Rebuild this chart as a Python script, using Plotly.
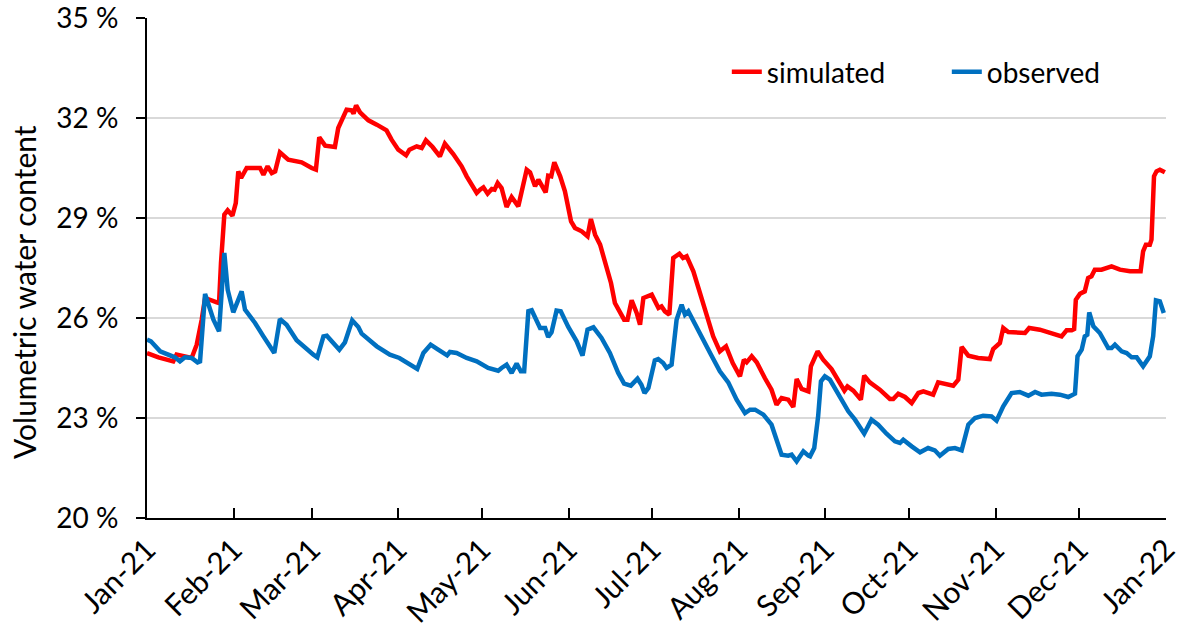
import pandas as pd
import plotly.graph_objects as go

# Day offsets from 1 Jan 2021 and volumetric water content (%)
sim_day = [0, 4.1, 9.4, 10.6, 16.0, 17.8, 19.6, 20.8, 25.0, 25.8, 26.5, 27.7, 28.9, 30.6, 31.8, 32.7, 33.7,
           35.7, 40.5, 41.7, 43.2, 44.7, 45.9, 47.6, 50.6, 55.4, 59.0, 60.5, 61.7, 63.8, 67.3, 68.5, 71.5,
           73.3, 74.0, 74.9, 76.3, 79.3, 82.3, 85.8, 87.6, 90.0, 92.8, 94.0, 96.6, 98.4, 99.9, 102.3, 104.9,
           106.7, 109.7, 112.7, 114.5, 116.3, 118.1, 119.3, 120.5, 122.0, 123.5, 124.5, 125.6, 127.0, 128.8,
           130.6, 133.0, 136.0, 137.2, 139.0, 140.2, 142.8, 143.7, 144.8, 145.9, 148.0, 149.7, 151.9, 153.3,
           155.7, 157.8, 159.0, 160.5, 162.3, 164.0, 166.2, 167.6, 169.1, 170.9, 172.1, 173.6, 175.4, 176.6,
           177.8, 180.8, 183.2, 184.3, 185.5, 187.1, 188.5, 190.7, 192.0, 193.3, 195.7, 198.1, 200.5, 202.8,
           205.2, 207.4, 209.8, 212.4, 213.8, 214.8, 216.6, 218.4, 221.3, 223.7, 225.5, 227.3, 229.7, 231.5,
           232.7, 234.5, 236.9, 237.8, 240.2, 242.2, 245.2, 247.6, 249.8, 250.9, 253.0, 255.7, 256.9, 258.9,
           262.5, 266.1, 267.3, 269.1, 271.5, 273.9, 276.3, 278.1, 281.6, 283.4, 285.8, 288.8, 290.6, 291.8,
           294.2, 297.7, 301.9, 303.1, 305.5, 306.7, 308.5, 314.5, 316.0, 319.8, 327.6, 329.4, 331.2, 332.1,
           332.7, 334.2, 335.9, 337.1, 338.3, 339.5, 341.9, 345.5, 348.5, 352.1, 355.9, 356.8, 357.8, 359.2,
           359.8, 360.7, 361.6, 362.8, 364.6]
sim_val = [24.95, 24.82, 24.70, 24.90, 24.80, 25.2, 25.95, 26.6, 26.47, 26.45, 27.65, 29.1, 29.23, 29.07, 29.45, 30.4, 30.2,
           30.5, 30.5, 30.3, 30.55, 30.35, 30.4, 30.97, 30.75, 30.67, 30.5, 30.45, 31.42, 31.17, 31.13, 31.7, 32.25,
           32.23, 32.13, 32.38, 32.17, 31.93, 31.8, 31.63, 31.35, 31.05, 30.88, 31.05, 31.15, 31.1, 31.33, 31.13, 30.85,
           31.23, 30.92, 30.55, 30.25, 30.0, 29.75, 29.85, 29.92, 29.73, 29.87, 29.85, 30.05, 29.9, 29.33,
           29.63, 29.35, 30.45, 30.37, 29.95, 30.15, 29.77, 30.27, 30.25, 30.67, 30.25, 29.8, 28.9, 28.7,
           28.6, 28.45, 28.97, 28.5, 28.2, 27.65, 27.05, 26.45, 26.2, 25.95, 25.95, 26.53, 26.15, 25.8,
           26.6, 26.7, 26.3, 26.35, 26.2, 26.1, 27.8, 27.93, 27.8, 27.85, 27.4, 26.7, 26.1, 25.45,
           25.0, 25.15, 24.65, 24.25, 24.75, 24.67, 24.85, 24.67, 24.2, 23.85, 23.4, 23.6, 23.55, 23.33,
           24.17, 23.87, 23.8, 24.55, 25.0, 24.75, 24.47, 24.15, 23.82, 23.95, 23.82, 23.55, 24.27, 24.07,
           23.85, 23.57, 23.57, 23.73, 23.63, 23.45, 23.75, 23.8, 23.7, 24.07, 24.02, 23.97, 24.15, 25.13,
           24.87, 24.8, 24.77, 25.07, 25.25, 25.7, 25.58, 25.55, 25.7, 25.65, 25.45, 25.63, 25.63, 25.67,
           26.55, 26.73, 26.8, 27.2, 27.25, 27.45, 27.45, 27.55, 27.45, 27.4, 27.4, 28.0, 28.2, 28.2,
           28.35, 30.25, 30.4, 30.45, 30.37]

obs_day = [0, 1.4, 4.7, 7.6, 10.0, 11.8, 13.6, 16.0, 18.1, 19.0, 20.8, 23.8, 25.8, 27.7, 28.9, 30.9, 33.9,
           35.1, 38.7, 41.7, 44.1, 45.6, 47.6, 50.0, 53.6, 56.6, 59.6, 61.0, 63.2, 64.4, 68.9, 70.9, 73.5,
           75.7, 76.9, 82.3, 87.0, 90.4, 93.6, 96.8, 99.0, 101.6, 104.3, 107.5, 108.5, 110.9, 114.5, 118.1,
           122.2, 125.8, 127.0, 128.8, 130.6, 132.4, 133.9, 135.1, 136.6, 137.8, 140.8, 142.6, 143.7, 144.9,
           146.7, 148.2, 150.9, 153.9, 156.0, 157.8, 159.9, 162.8, 165.8, 168.8, 170.9, 173.3, 175.7, 177.1,
           178.2, 179.6, 181.9, 183.1, 184.9, 186.1, 187.9, 189.7, 191.5, 192.7, 193.9, 196.3, 198.7, 201.7,
           205.2, 208.2, 211.2, 214.2, 216.0, 217.8, 220.8, 223.7, 225.5, 227.3, 229.7, 230.9, 232.7, 235.1,
           236.9, 237.5, 239.0, 240.4, 241.4, 242.8, 244.6, 247.0, 251.2, 253.6, 256.9, 259.5, 261.9, 264.9,
           267.9, 269.7, 270.9, 273.9, 276.9, 279.8, 282.2, 284.0, 287.0, 289.4, 291.8, 294.2, 296.6, 299.5,
           302.5, 304.3, 306.7, 309.7, 312.6, 315.7, 318.1, 320.4, 324.0, 327.0, 330.0, 332.4, 333.3, 334.8,
           335.9, 336.8, 337.5, 339.0, 341.3, 344.3, 345.5, 346.7, 349.1, 350.9, 352.7, 354.5, 356.8, 359.2,
           360.4, 361.4, 362.8, 364.2]
obs_val = [25.35, 25.3, 25.0, 24.9, 24.82, 24.7, 24.82, 24.8, 24.67, 24.7, 26.72, 25.95, 25.6, 27.95, 26.85, 26.17, 26.8,
           26.25, 25.85, 25.45, 25.17, 24.95, 25.97, 25.8, 25.33, 25.1, 24.9, 24.82, 25.45, 25.47, 25.05, 25.27, 25.93,
           25.73, 25.53, 25.15, 24.9, 24.8, 24.63, 24.47, 24.95, 25.2, 25.05, 24.88, 24.98, 24.95, 24.8, 24.7,
           24.5, 24.42, 24.5, 24.6, 24.35, 24.63, 24.4, 24.4, 26.2, 26.23, 25.7, 25.7, 25.43, 25.57,
           26.22, 26.2, 25.73, 25.3, 24.87, 25.65, 25.72, 25.4, 24.95, 24.35, 24.03, 23.97, 24.18, 24.0,
           23.75, 23.9, 24.73, 24.77, 24.65, 24.5, 24.6, 25.95, 26.4, 26.1, 26.2, 25.8, 25.45, 24.95,
           24.4, 24.07, 23.55, 23.15, 23.25, 23.25, 23.1, 22.8, 22.35, 21.9, 21.87, 21.9, 21.7, 22.0,
           21.87, 21.85, 22.1, 23.05, 24.1, 24.25, 24.15, 23.8, 23.2, 22.95, 22.53, 22.95, 22.8, 22.53,
           22.3, 22.25, 22.35, 22.15, 21.97, 22.1, 22.03, 21.87, 22.07, 22.1, 22.03, 22.8, 23.0, 23.07,
           23.05, 22.92, 23.35, 23.75, 23.78, 23.67, 23.78, 23.7, 23.73, 23.7, 23.63, 23.73, 24.85, 25.05,
           25.45, 25.5, 26.17, 25.75, 25.55, 25.1, 25.1, 25.2, 25.0, 24.95, 24.82, 24.82, 24.55, 24.85,
           25.45, 26.53, 26.5, 26.15]

month_ticks = ["2021-01-01", "2021-02-01", "2021-03-01", "2021-04-01", "2021-05-01", "2021-06-01",
               "2021-07-01", "2021-08-01", "2021-09-01", "2021-10-01", "2021-11-01", "2021-12-01", "2022-01-01"]
month_labels = ["Jan-21", "Feb-21", "Mar-21", "Apr-21", "May-21", "Jun-21", "Jul-21",
                "Aug-21", "Sep-21", "Oct-21", "Nov-21", "Dec-21", "Jan-22"]
y_ticks = [20, 23, 26, 29, 32, 35]
y_labels = ["20 %", "23 %", "26 %", "29 %", "32 %", "35 %"]
y_title = "Volumetric water content"

base = pd.Timestamp("2021-01-01")
sim_x = base + pd.to_timedelta(sim_day, unit="D")
obs_x = base + pd.to_timedelta(obs_day, unit="D")

FONT = "Lato"
fig = go.Figure()
fig.add_trace(go.Scatter(x=sim_x, y=sim_val, mode="lines", name="simulated",
                         line=dict(color="#FF0000", width=4.5)))
fig.add_trace(go.Scatter(x=obs_x, y=obs_val, mode="lines", name="observed",
                         line=dict(color="#0070C0", width=4.5)))

fig.update_layout(
    width=1181, height=630,
    margin=dict(l=147, r=15, t=18, b=112, autoexpand=False),
    paper_bgcolor="white", plot_bgcolor="white",
    font=dict(family=FONT, size=28, color="#000000"),
    showlegend=True,
    legend=dict(orientation="h", x=0.569, xanchor="left", y=0.892, yanchor="middle",
                font=dict(family=FONT, size=28), bgcolor="rgba(0,0,0,0)",
                itemwidth=30, tracegroupgap=0, entrywidth=175, entrywidthmode="pixels"),
    xaxis=dict(
        type="date", range=["2021-01-01", "2022-01-01"], automargin=False,
        tickvals=month_ticks, ticktext=month_labels, tickangle=-45,
        ticks="inside", ticklen=10, tickwidth=2, tickcolor="black",
        showline=True, linecolor="black", linewidth=2,
        showgrid=False, zeroline=False, ticklabeloverflow="allow",
        tickfont=dict(family=FONT, size=30),
    ),
    yaxis=dict(
        range=[20, 35], tickvals=y_ticks, ticktext=y_labels, automargin=False,
        ticks="outside", ticklen=9, tickwidth=2, tickcolor="black",
        showline=True, linecolor="black", linewidth=2,
        showgrid=True, gridcolor="#D9D9D9", gridwidth=1.5,
        zeroline=False, ticklabelstandoff=12, ticklabeloverflow="allow",
        tickfont=dict(family=FONT, size=28),
    ),
    annotations=[dict(text=y_title, textangle=-90, xref="paper", yref="paper",
                      x=-0.1207, y=0.452, xanchor="center", yanchor="middle",
                      showarrow=False, font=dict(family=FONT, size=30, color="#000000"))],
)

# Remove the page's default body margin so the figure fills the window exactly.
fig.write_html("out.html", config={"displayModeBar": False},
               post_script="document.body.style.margin='0px';")
